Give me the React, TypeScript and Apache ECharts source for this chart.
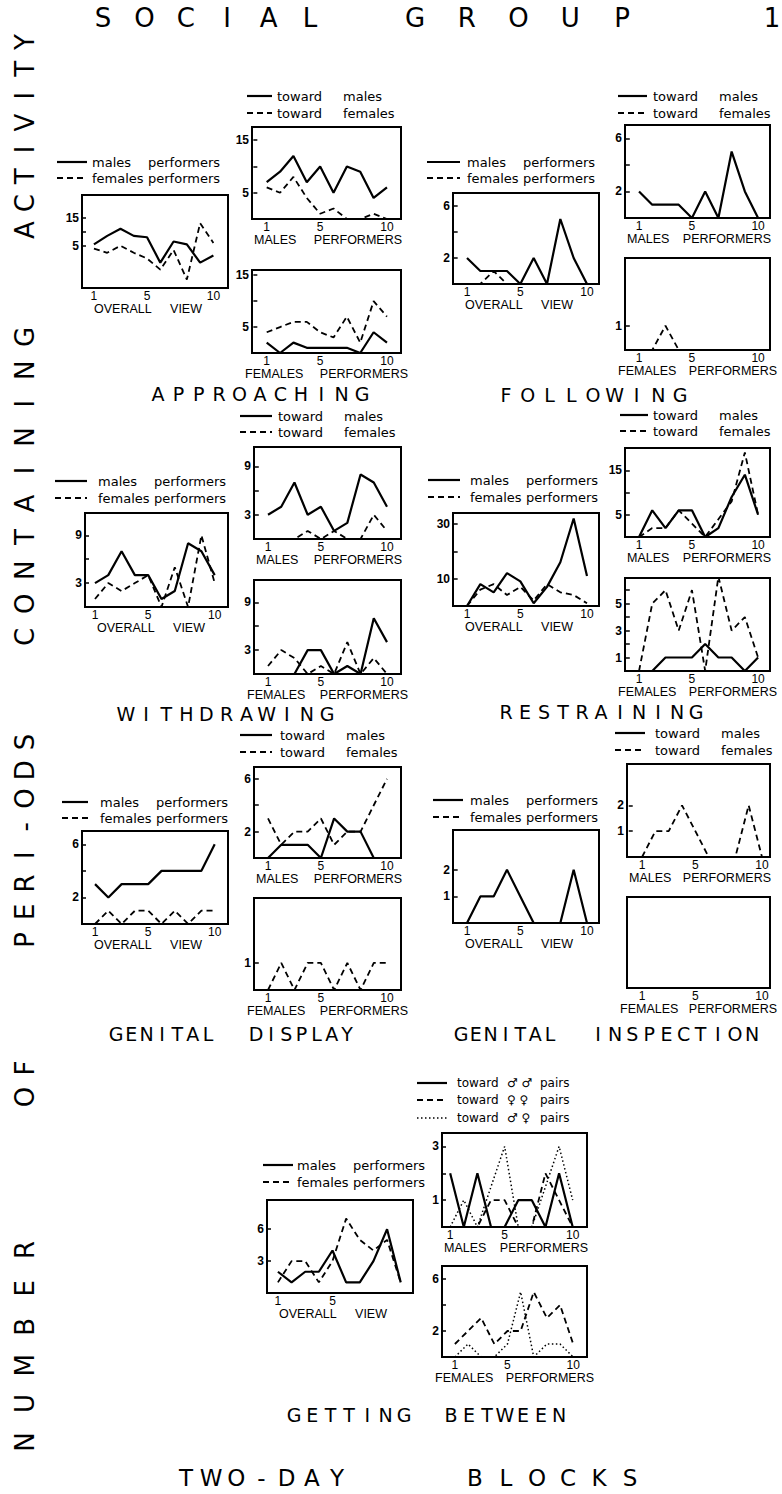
import React, { useEffect, useRef } from 'react';
import * as echarts from 'echarts';

// ---------------- DATA ----------------
const blocks = [1, 2, 3, 4, 5, 6, 7, 8, 9, 10];
const xTickBlocks = [1, 5, 10];
const xTickBlocksShort = [1, 5];

// Approaching
const approachingOverallMales = [5.5, 8.5, 11, 8.5, 8, -1, 6.5, 5.5, -1, 1.5];
const approachingOverallFemales = [4, 2.5, 5, 2.5, 0.5, -3.5, 3.5, -7, 13, 6];
const approachingMalesTowardMales = [7, 9, 12, 7, 10, 5, 10, 9, 4, 6];
const approachingMalesTowardFemales = [6, 5, 8, 4, 1, 2, 0, 0, 1, 0];
const approachingFemalesTowardMales = [2, 0, 2, 1, 1, 1, 1, 0, 4, 2];
const approachingFemalesTowardFemales = [4, 5, 6, 6, 4, 3, 7, 2, 10, 7];

// Following
const followingOverallMales = [2, 1, 1, 1, 0, 2, 0, 5, 2, 0];
const followingOverallFemales = [0, 0, 1, 0, 0, 0, 0, 0, 0, 0];
const followingMalesTowardMales = [2, 1, 1, 1, 0, 2, 0, 5, 2, 0];
const followingMalesTowardFemales = [0, 0, 0, 0, 0, 0, 0, 0, 0, 0];
const followingFemalesTowardMales = [0, 0, 0, 0, 0, 0, 0, 0, 0, 0];
const followingFemalesTowardFemales = [0, 0, 1, 0, 0, 0, 0, 0, 0, 0];

// Withdrawing
const withdrawingOverallMales = [3, 4, 7, 4, 4, 1, 2, 8, 7, 4];
const withdrawingOverallFemales = [1, 3, 2, 3, 4, 0, 5, 0, 9, 3];
const withdrawingMalesTowardMales = [3, 4, 7, 3, 4, 1, 2, 8, 7, 4];
const withdrawingMalesTowardFemales = [0, 0, 0, 1, 0, 1, 0, 0, 3, 1];
const withdrawingFemalesTowardMales = [0, 0, 0, 3, 3, 0, 1, 0, 7, 4];
const withdrawingFemalesTowardFemales = [1, 3, 2, 0, 1, 0, 4, 0, 2, 0];

// Restraining
const restrainingOverallMales = [0, 8, 5, 12, 9, 1, 7, 16, 32, 11];
const restrainingOverallFemales = [0, 6, 8, 4, 7, 2, 8, 5, 4, 1];
const restrainingMalesTowardMales = [0, 6, 2, 6, 6, 0, 2, 9, 14, 5];
const restrainingMalesTowardFemales = [0, 2, 2, 6, 3, 0, 4, 8, 19, 5];
const restrainingFemalesTowardMales = [0, 0, 1, 1, 1, 2, 1, 1, 0, 1];
const restrainingFemalesTowardFemales = [0, 5, 6, 3, 6, 0, 7, 3, 4, 1];

// Genital display
const displayOverallMales = [3, 2, 3, 3, 3, 4, 4, 4, 4, 6];
const displayOverallFemales = [0, 1, 0, 1, 1, 0, 1, 0, 1, 1];
const displayMalesTowardMales = [0, 1, 1, 1, 0, 3, 2, 2, 0, 0];
const displayMalesTowardFemales = [3, 1, 2, 2, 3, 1, 2, 2, 4, 6];
const displayFemalesTowardMales = [0, 0, 0, 0, 0, 0, 0, 0, 0, 0];
const displayFemalesTowardFemales = [0, 1, 0, 1, 1, 0, 1, 0, 1, 1];

// Genital inspection
const inspectionOverallMales = [0, 1, 1, 2, 1, 0, 0, 0, 2, 0];
const inspectionOverallFemales = [0, 0, 0, 0, 0, 0, 0, 0, 0, 0];
const inspectionMalesTowardMales = [0, 0, 0, 0, 0, 0, 0, 0, 0, 0];
const inspectionMalesTowardFemales = [0, 1, 1, 2, 1, 0, 0, 0, 2, 0];
const inspectionFemalesTowardMales = [0, 0, 0, 0, 0, 0, 0, 0, 0, 0];
const inspectionFemalesTowardFemales = [0, 0, 0, 0, 0, 0, 0, 0, 0, 0];

// Getting between
const betweenOverallMales = [2, 1, 2, 2, 4, 1, 1, 3, 6, 1];
const betweenOverallFemales = [1, 3, 3, 1, 3, 7, 5, 4, 5, 1];
const betweenMalesTowardMalePairs = [2, 0, 2, 0, 0, 1, 1, 0, 2, 0];
const betweenMalesTowardFemalePairs = [0, 0, 0, 1, 1, 0, 0, 2, 1, 0];
const betweenMalesTowardMixedPairs = [0, 1, 0, 1.5, 3, 0, 0, 1.5, 3, 1];
const betweenFemalesTowardMalePairs = [0, 0, 0, 0, 0, 0, 0, 0, 0, 0];
const betweenFemalesTowardFemalePairs = [1, 2, 3, 1, 2, 2, 5, 3, 4, 1];
const betweenFemalesTowardMixedPairs = [0, 1, 0, 0, 1, 5, 0, 1, 1, 0];

// ---------------- LAYOUT ----------------
type Kind = 'solid' | 'dashed' | 'dotted';
interface LineDef { name: string; data: number[]; kind: Kind }
interface PanelDef {
  box: number[]; // left, top, right, bottom
  yRange: number[];
  yTicks: number[];
  yLabels: number[];
  xRange: number[];
  xLabels: number[];
  caption: 'overall' | 'males' | 'females';
  lines: LineDef[];
}

const overall = (m: number[], f: number[]): LineDef[] => [
  { name: 'males performers', data: m, kind: 'solid' },
  { name: 'females performers', data: f, kind: 'dashed' },
];
const toward = (m: number[], f: number[]): LineDef[] => [
  { name: 'toward males', data: m, kind: 'solid' },
  { name: 'toward females', data: f, kind: 'dashed' },
];
const pairs = (mm: number[], ff: number[], mf: number[]): LineDef[] => [
  { name: 'toward ♂ ♂ pairs', data: mm, kind: 'solid' },
  { name: 'toward ♀ ♀ pairs', data: ff, kind: 'dashed' },
  { name: 'toward ♂ ♀ pairs', data: mf, kind: 'dotted' },
];

const panels: PanelDef[] = [
  // Approaching
  { box: [82, 195, 228, 288], yRange: [-10, 23], yTicks: [5, 10, 15], yLabels: [5, 15], xRange: [0.1, 11.1], xLabels: xTickBlocks, caption: 'overall', lines: overall(approachingOverallMales, approachingOverallFemales) },
  { box: [252, 127, 401, 219], yRange: [0, 17.5], yTicks: [5, 10, 15], yLabels: [5, 15], xRange: [-0.1, 11.05], xLabels: xTickBlocks, caption: 'males', lines: toward(approachingMalesTowardMales, approachingMalesTowardFemales) },
  { box: [252, 270, 401, 353], yRange: [0, 16], yTicks: [5, 10, 15], yLabels: [5, 15], xRange: [-0.1, 11.05], xLabels: xTickBlocks, caption: 'females', lines: toward(approachingFemalesTowardMales, approachingFemalesTowardFemales) },
  // Following
  { box: [453, 193, 599, 284], yRange: [0, 7], yTicks: [2, 4, 6], yLabels: [2, 6], xRange: [-0.05, 10.9], xLabels: xTickBlocks, caption: 'overall', lines: overall(followingOverallMales, followingOverallFemales) },
  { box: [625, 125, 770, 218], yRange: [0, 7], yTicks: [2, 4, 6], yLabels: [2, 6], xRange: [-0.06, 10.9], xLabels: xTickBlocks, caption: 'males', lines: toward(followingMalesTowardMales, followingMalesTowardFemales) },
  { box: [625, 258, 770, 350], yRange: [0, 3.8], yTicks: [1], yLabels: [1], xRange: [-0.06, 10.9], xLabels: xTickBlocks, caption: 'females', lines: toward(followingFemalesTowardMales, followingFemalesTowardFemales) },
  // Withdrawing
  { box: [85, 513, 228, 607], yRange: [0, 11.8], yTicks: [3, 6, 9], yLabels: [3, 9], xRange: [0.25, 11], xLabels: xTickBlocks, caption: 'overall', lines: overall(withdrawingOverallMales, withdrawingOverallFemales) },
  { box: [254, 447, 401, 539], yRange: [0, 11.4], yTicks: [3, 6, 9], yLabels: [3, 9], xRange: [-0.06, 11.06], xLabels: xTickBlocks, caption: 'males', lines: toward(withdrawingMalesTowardMales, withdrawingMalesTowardFemales) },
  { box: [254, 580, 401, 674], yRange: [0, 11.8], yTicks: [3, 6, 9], yLabels: [3, 9], xRange: [-0.06, 11.06], xLabels: xTickBlocks, caption: 'females', lines: toward(withdrawingFemalesTowardMales, withdrawingFemalesTowardFemales) },
  // Restraining
  { box: [453, 513, 599, 606], yRange: [0, 34], yTicks: [10, 20, 30], yLabels: [10, 30], xRange: [-0.05, 10.9], xLabels: xTickBlocks, caption: 'overall', lines: overall(restrainingOverallMales, restrainingOverallFemales) },
  { box: [625, 448, 770, 537], yRange: [0, 20], yTicks: [5, 10, 15], yLabels: [5, 15], xRange: [-0.06, 10.9], xLabels: xTickBlocks, caption: 'males', lines: toward(restrainingMalesTowardMales, restrainingMalesTowardFemales) },
  { box: [625, 578, 770, 671], yRange: [0, 6.9], yTicks: [1, 2, 3, 4, 5, 6], yLabels: [1, 3, 5], xRange: [-0.06, 10.9], xLabels: xTickBlocks, caption: 'females', lines: toward(restrainingFemalesTowardMales, restrainingFemalesTowardFemales) },
  // Genital display
  { box: [82, 831, 228, 924], yRange: [0, 7], yTicks: [2, 4, 6], yLabels: [2, 6], xRange: [0.02, 11], xLabels: xTickBlocks, caption: 'overall', lines: overall(displayOverallMales, displayOverallFemales) },
  { box: [254, 767, 401, 858], yRange: [0, 6.9], yTicks: [2, 4, 6], yLabels: [2, 6], xRange: [-0.06, 11.06], xLabels: xTickBlocks, caption: 'males', lines: toward(displayMalesTowardMales, displayMalesTowardFemales) },
  { box: [254, 898, 401, 990], yRange: [0, 3.4], yTicks: [1], yLabels: [1], xRange: [-0.06, 11.06], xLabels: xTickBlocks, caption: 'females', lines: toward(displayFemalesTowardMales, displayFemalesTowardFemales) },
  // Genital inspection
  { box: [453, 830, 599, 923], yRange: [0, 3.5], yTicks: [1, 2], yLabels: [1, 2], xRange: [-0.05, 10.9], xLabels: xTickBlocks, caption: 'overall', lines: overall(inspectionOverallMales, inspectionOverallFemales) },
  { box: [627, 764, 770, 857], yRange: [0, 3.6], yTicks: [1, 2], yLabels: [1, 2], xRange: [-0.13, 10.6], xLabels: xTickBlocks, caption: 'males', lines: toward(inspectionMalesTowardMales, inspectionMalesTowardFemales) },
  { box: [627, 897, 770, 988], yRange: [0, 3.5], yTicks: [], yLabels: [], xRange: [-0.13, 10.6], xLabels: xTickBlocks, caption: 'females', lines: toward(inspectionFemalesTowardMales, inspectionFemalesTowardFemales) },
  // Getting between
  { box: [267, 1200, 413, 1293], yRange: [0, 8.75], yTicks: [3, 6], yLabels: [3, 6], xRange: [0.2, 10.9], xLabels: xTickBlocksShort, caption: 'overall', lines: overall(betweenOverallMales, betweenOverallFemales) },
  { box: [442, 1133, 587, 1227], yRange: [0, 3.5], yTicks: [1, 2, 3], yLabels: [1, 3], xRange: [0.4, 11.05], xLabels: xTickBlocks, caption: 'males', lines: pairs(betweenMalesTowardMalePairs, betweenMalesTowardFemalePairs, betweenMalesTowardMixedPairs) },
  { box: [442, 1266, 587, 1357], yRange: [0, 7], yTicks: [2, 4, 6], yLabels: [2, 6], xRange: [0.02, 11.05], xLabels: xTickBlocks, caption: 'females', lines: pairs(betweenFemalesTowardMalePairs, betweenFemalesTowardFemalePairs, betweenFemalesTowardMixedPairs) },
];

// legends: [lineX1, lineX2, textX, y1, y2, (y3)]
const overallLegends = [
  [57, 87, 92, 162, 178],
  [427, 460, 467, 162, 178],
  [55, 87, 98, 481, 498],
  [428, 460, 470, 480, 497],
  [62, 88, 100, 802, 818],
  [433, 463, 470, 800, 817],
  [263, 293, 297, 1165, 1182],
];
const towardLegends = [
  [247, 272, 277, 96, 113],
  [618, 647, 653, 96, 113],
  [240, 272, 278, 416, 432],
  [620, 648, 653, 415, 431],
  [240, 272, 280, 735, 752],
  [615, 645, 655, 733, 750],
];
const pairsLegend = [417, 447, 457, 1083, 1100, 1118];

const TITLE_FONT = "'DejaVu Sans', sans-serif";
const PANEL_FONT = "'Liberation Sans', Arial, sans-serif";
const LEGEND_FONT = "'DejaVu Sans', sans-serif";

const lineStyleOf = (k: Kind) =>
  k === 'solid'
    ? { color: '#000', width: 2.2, type: 'solid' as any }
    : k === 'dashed'
    ? { color: '#000', width: 1.8, type: [6, 4] as any }
    : { color: '#000', width: 1.5, type: [1.5, 2.5] as any };

const dashOf = (k: Kind) => (k === 'solid' ? null : k === 'dashed' ? [6, 4] : [1.5, 2.5]);

function txt(text: string, x: number, y: number, size: number, font: string, align = 'left', extra: any = {}) {
  return {
    type: 'text', x, y, silent: true, ...extra,
    style: { text, fontSize: size, fontFamily: font, fill: '#000', align, verticalAlign: 'middle' },
  };
}

function spaced(word: string, x0: number, x1: number, y: number, size: number) {
  const n = word.length;
  return word.split('').map((c, i) =>
    txt(c, n === 1 ? x0 : x0 + ((x1 - x0) * i) / (n - 1), y, size, TITLE_FONT, 'center')
  );
}

function vertical(word: string, yBottom: number, yTop: number, x: number, size: number) {
  const n = word.length;
  return word.split('').map((c, i) =>
    txt(c, x, n === 1 ? yBottom : yBottom + ((yTop - yBottom) * i) / (n - 1), size, TITLE_FONT, 'center', { rotation: Math.PI / 2 })
  );
}

function legendLine(x1: number, x2: number, y: number, k: Kind) {
  return {
    type: 'line', silent: true,
    shape: { x1, y1: y, x2, y2: y },
    style: { stroke: '#000', lineWidth: k === 'solid' ? 2.2 : k === 'dashed' ? 1.8 : 1.5, lineDash: dashOf(k) },
  };
}

function buildGraphic() {
  const els: any[] = [];
  // main titles
  els.push(...spaced('SOCIAL', 103, 310, 18, 26));
  els.push(...spaced('GROUP', 415, 622, 18, 26));
  els.push(...spaced('1', 772, 772, 18, 26));
  els.push(...spaced('APPROACHING', 158, 362, 394, 19));
  els.push(...spaced('FOLLOWING', 506, 680, 395, 19));
  els.push(...spaced('WITHDRAWING', 126, 327, 714, 19));
  els.push(...spaced('RESTRAINING', 506, 696, 712, 19));
  els.push(...spaced('GENITAL', 116, 208, 1034, 19));
  els.push(...spaced('DISPLAY', 256, 347, 1034, 19));
  els.push(...spaced('GENITAL', 461, 550, 1034, 19));
  els.push(...spaced('INSPECTION', 598, 752, 1034, 19));
  els.push(...spaced('GETTING', 294, 404, 1415, 19));
  els.push(...spaced('BETWEEN', 451, 559, 1415, 19));
  els.push(...spaced('TWO-DAY', 186, 337, 1478, 23));
  els.push(...spaced('BLOCKS', 475, 630, 1478, 23));
  // vertical axis title
  els.push(...vertical('ACTIVITY', 230, 42, 25, 26));
  els.push(...vertical('CONTAINING', 637, 337, 25, 26));
  els.push(...vertical('PERI-ODS', 940, 742, 25, 26));
  els.push(...vertical('OF', 1097, 1068, 25, 26));
  els.push(...vertical('NUMBER', 1442, 1250, 25, 26));

  // legends
  overallLegends.forEach(([a, b, tx, y1, y2]) => {
    els.push(legendLine(a, b, y1, 'solid'), legendLine(a, b, y2, 'dashed'));
    els.push(txt('males', tx, y1, 13, LEGEND_FONT), txt('performers', tx + 56, y1, 13, LEGEND_FONT));
    els.push(txt('females', tx, y2, 13, LEGEND_FONT), txt('performers', tx + 56, y2, 13, LEGEND_FONT));
  });
  towardLegends.forEach(([a, b, tx, y1, y2]) => {
    els.push(legendLine(a, b, y1, 'solid'), legendLine(a, b, y2, 'dashed'));
    els.push(txt('toward', tx, y1, 13, LEGEND_FONT), txt('males', tx + 66, y1, 13, LEGEND_FONT));
    els.push(txt('toward', tx, y2, 13, LEGEND_FONT), txt('females', tx + 66, y2, 13, LEGEND_FONT));
  });
  {
    const [a, b, tx, y1, y2, y3] = pairsLegend;
    const kinds: Kind[] = ['solid', 'dashed', 'dotted'];
    const syms = ['♂ ♂', '♀ ♀', '♂ ♀'];
    [y1, y2, y3].forEach((y, i) => {
      els.push(legendLine(a, b, y, kinds[i]));
      els.push(txt('toward', tx, y, 12, LEGEND_FONT), txt(syms[i], tx + 50, y, 12, LEGEND_FONT), txt('pairs', tx + 83, y, 12, LEGEND_FONT));
    });
  }

  // captions under panels
  panels.forEach((p) => {
    const [l, , r, b] = p.box;
    const y = b + 21;
    if (p.caption === 'overall') {
      els.push(txt('OVERALL', l + 12, y, 12.5, PANEL_FONT, 'left'));
      els.push(txt('VIEW', l + 120, y, 12.5, PANEL_FONT, 'right'));
    } else if (p.caption === 'males') {
      els.push(txt('MALES', l + 2, y, 12.5, PANEL_FONT, 'left'));
      els.push(txt('PERFORMERS', r + 1, y, 12.5, PANEL_FONT, 'right'));
    } else {
      els.push(txt('FEMALES', l - 7, y, 12.5, PANEL_FONT, 'left'));
      els.push(txt('PERFORMERS', r + 7, y, 12.5, PANEL_FONT, 'right'));
    }
  });
  return els;
}

function buildOption() {
  const grid = panels.map((p) => ({
    left: p.box[0], top: p.box[1], width: p.box[2] - p.box[0], height: p.box[3] - p.box[1],
    show: true, borderColor: '#000', borderWidth: 2, backgroundColor: 'rgba(0,0,0,0)', containLabel: false,
  }));
  const xAxis = panels.map((p, i) => ({
    type: 'value', gridIndex: i, min: p.xRange[0], max: p.xRange[1],
    axisLine: { show: false }, axisTick: { show: false }, splitLine: { show: false },
    axisLabel: { show: true, customValues: p.xLabels, fontFamily: PANEL_FONT, fontSize: 12, color: '#000', margin: 2 },
  }));
  const yAxis = panels.map((p, i) => ({
    type: 'value', gridIndex: i, min: p.yRange[0], max: p.yRange[1],
    axisLine: { show: false }, splitLine: { show: false },
    axisTick: { show: p.yTicks.length > 0, inside: true, length: 4, customValues: p.yTicks, lineStyle: { color: '#000', width: 1.5 } },
    axisLabel: { show: p.yLabels.length > 0, customValues: p.yLabels, fontFamily: PANEL_FONT, fontSize: 12, fontWeight: 'bold', color: '#000', margin: 3 },
  }));
  const series: any[] = [];
  panels.forEach((p, i) => {
    p.lines.forEach((ln) => {
      series.push({
        type: 'line', name: ln.name, xAxisIndex: i, yAxisIndex: i,
        data: blocks.map((b, j) => [b, ln.data[j]]),
        symbol: 'none', showSymbol: false, silent: true,
        lineStyle: lineStyleOf(ln.kind),
      });
    });
  });
  return {
    animation: false,
    backgroundColor: '#ffffff',
    grid, xAxis, yAxis, series,
    graphic: { elements: buildGraphic() },
  };
}

export default function App() {
  const ref = useRef<HTMLDivElement>(null);
  useEffect(() => {
    if (!ref.current) return;
    const chart = echarts.init(ref.current, undefined, { renderer: 'svg' });
    chart.setOption(buildOption() as any);
    return () => chart.dispose();
  }, []);
  return (
    <div
      ref={ref}
      style={{ position: 'absolute', left: 0, top: 0, width: 782, height: 1494, background: '#fff' }}
    />
  );
}
